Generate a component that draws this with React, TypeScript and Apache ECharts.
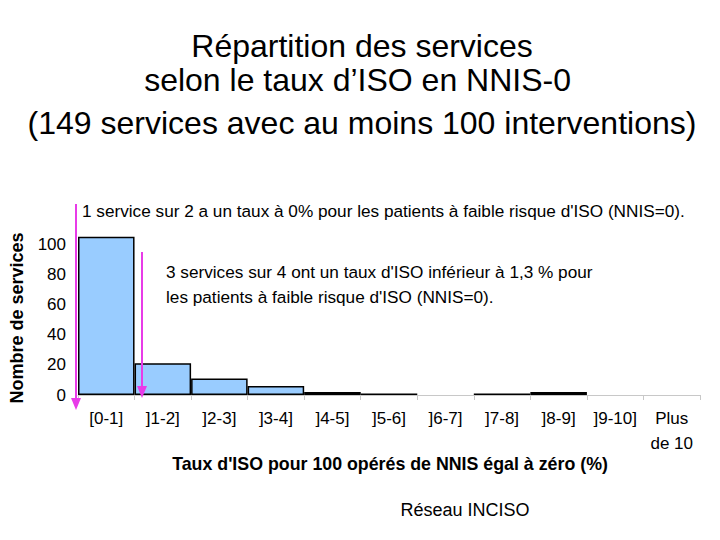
import React, { useEffect, useRef } from "react";
import * as echarts from "echarts";

const categories = ["[0-1]", "]1-2]", "]2-3]", "]3-4]", "]4-5]", "]5-6]", "]6-7]", "]7-8]", "]8-9]", "]9-10]", "Plus\nde 10"];
const counts = [105, 21, 11, 6, 2, 1, 0, 1, 2, 0, 0];
const titleLines = [
  "Répartition des services",
  "selon le taux d’ISO en NNIS-0 ",
  "(149 services avec au moins 100 interventions)",
];
const note1 = "1 service sur 2 a un taux à 0% pour les patients à faible risque d'ISO (NNIS=0).";
const note2 = "3 services sur 4 ont un taux d'ISO inférieur à 1,3 % pour\nles patients à faible risque d'ISO (NNIS=0).";
const yName = "Nombre de services";
const xName = "Taux d'ISO pour 100 opérés de NNIS égal à zéro (%)";
const source = "Réseau INCISO";

const FONT = "'Liberation Sans', Arial, sans-serif";
const MAGENTA = "#E83BE8";

export default function App() {
  const ref = useRef<HTMLDivElement>(null);
  useEffect(() => {
    if (!ref.current) return;
    const chart = echarts.init(ref.current, undefined, { renderer: "svg" });
    chart.setOption({
      animation: false,
      backgroundColor: "#ffffff",
      textStyle: { fontFamily: FONT },
      grid: { left: 78, right: 20, top: 214, bottom: 145, containLabel: false },
      xAxis: {
        type: "category",
        data: categories,
        boundaryGap: true,
        axisLine: { show: true, lineStyle: { color: "#c8c8c8", width: 1 } },
        axisTick: { show: true, alignWithLabel: false, length: 5, lineStyle: { color: "#c8c8c8" } },
        axisLabel: { color: "#000", fontSize: 17, fontFamily: FONT, margin: 11, lineHeight: 25, interval: 0, verticalAlign: "top" },
      },
      yAxis: {
        type: "value",
        min: 0,
        max: 120,
        interval: 20,
        axisLine: { show: false },
        axisTick: { show: false },
        splitLine: { show: false },
        axisLabel: { color: "#000", fontSize: 17, fontFamily: FONT, margin: 12, showMaxLabel: false },
      },
      series: [
        {
          type: "bar",
          data: counts.map((v) => (v === 0 ? null : v)),
          barCategoryGap: "0%",
          itemStyle: { color: "#99CCFF", borderColor: "#000", borderWidth: 1.5 },
        },
      ],
      graphic: [
        ...titleLines.map((t, i) => ({
          type: "text",
          x: 362,
          y: [46, 80, 123][i],
          style: { text: t, fontSize: 32, fontFamily: FONT, fill: "#000", textAlign: "center", textVerticalAlign: "middle" },
        })),
        {
          type: "text",
          x: 82,
          y: 211,
          style: { text: note1, fontSize: 17.2, fontFamily: FONT, fill: "#000", textVerticalAlign: "middle" },
        },
        {
          type: "text",
          x: 166,
          y: 259,
          style: { text: note2, fontSize: 17.2, lineHeight: 25, fontFamily: FONT, fill: "#000", textVerticalAlign: "top" },
        },
        {
          type: "text",
          x: 17,
          y: 318,
          rotation: Math.PI / 2,
          style: { text: yName, fontSize: 18, fontWeight: "bold", fontFamily: FONT, fill: "#000", textAlign: "center", textVerticalAlign: "middle" },
        },
        {
          type: "text",
          x: 390,
          y: 464,
          style: { text: xName, fontSize: 17.8, fontWeight: "bold", fontFamily: FONT, fill: "#000", textAlign: "center", textVerticalAlign: "middle" },
        },
        {
          type: "text",
          x: 465,
          y: 510,
          style: { text: source, fontSize: 18, fontFamily: FONT, fill: "#000", textAlign: "center", textVerticalAlign: "middle" },
        },
        { type: "line", shape: { x1: 76, y1: 204, x2: 76, y2: 400 }, style: { stroke: MAGENTA, lineWidth: 2 }, z: 100 },
        { type: "polygon", shape: { points: [[71, 398], [81, 398], [76, 410]] }, style: { fill: MAGENTA }, z: 100 },
        { type: "line", shape: { x1: 142, y1: 252, x2: 142, y2: 388 }, style: { stroke: MAGENTA, lineWidth: 2 }, z: 100 },
        { type: "polygon", shape: { points: [[137, 386], [147, 386], [142, 398]] }, style: { fill: MAGENTA }, z: 100 },
      ],
    });
    return () => chart.dispose();
  }, []);
  return <div ref={ref} style={{ width: 720, height: 540, margin: -8 }} />;
}
